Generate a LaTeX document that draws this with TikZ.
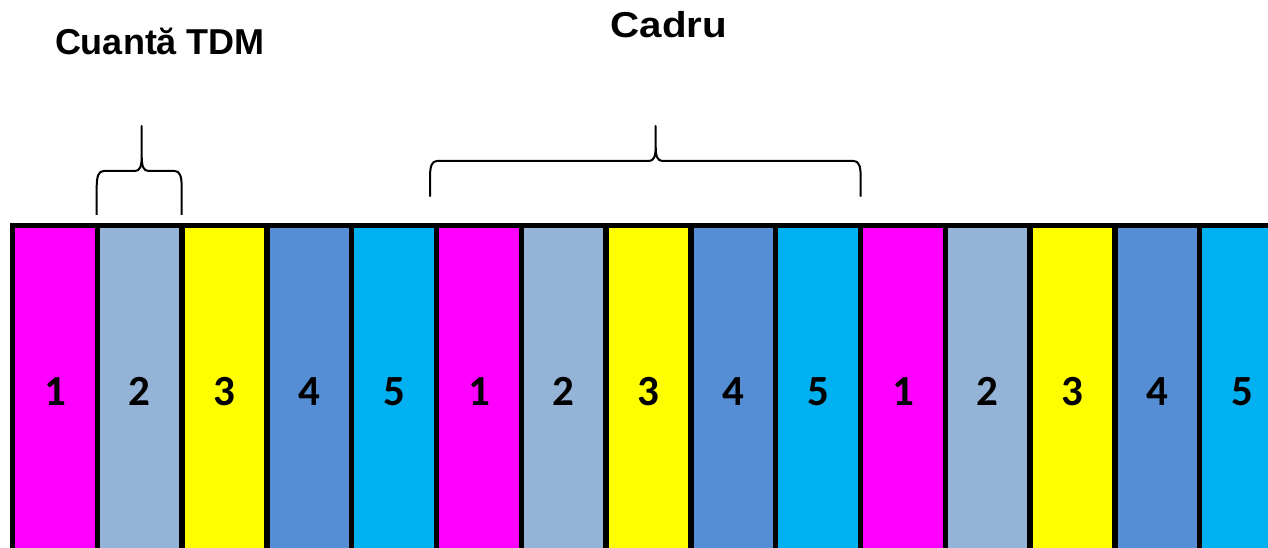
\documentclass[tikz,border=0pt]{standalone}
\usepackage{fontspec}
\setmainfont{Liberation Sans}
\newfontfamily\digitfont{Carlito}
\definecolor{cmag}{HTML}{FF00FF}
\definecolor{cgrey}{HTML}{95B3D7}
\definecolor{cyel}{HTML}{FFFF00}
\definecolor{cblue}{HTML}{558ED5}
\definecolor{ccyan}{HTML}{00B0F0}
\tikzset{
  slot/.style={draw=black, line width=5.5pt, minimum width=84.8pt, minimum height=331.5pt,
    inner sep=0pt, outer sep=0pt, anchor=south west, text=black,
    font=\digitfont\bfseries\fontsize{43}{45}\selectfont},
  bracepath/.style={draw=black, line width=2pt, line join=round},
  title/.style={inner sep=0pt, anchor=base, font=\bfseries\fontsize{36}{40}\selectfont}
}
\newcommand\mybrace[5]{%
  \draw[bracepath] (#1,#4) -- (#1,{#5-16}) .. controls (#1,{#5-5}) and ({#1+2},#5) .. ({#1+7},#5)
    -- ({#3-7},#5) .. controls ({#3-2},#5) and (#3,{#5+4}) .. (#3,{#5+15}) -- (#3,421)
    -- (#3,{#5+15}) .. controls (#3,{#5+4}) and ({#3+2},#5) .. ({#3+7},#5)
    -- ({#2-7},#5) .. controls ({#2-2},#5) and (#2,{#5-5}) .. (#2,{#5-16}) -- (#2,#4);}
\begin{document}
\begin{tikzpicture}[x=1pt,y=1pt]
\useasboundingbox (0,0) rectangle (1268,547);
\clip (0,0) rectangle (1268,547);
\fill[white] (0,0) rectangle (1268,547);
\foreach \k/\c/\n in {0/cmag/1,1/cgrey/2,2/cyel/3,3/cblue/4,4/ccyan/5,
                      5/cmag/1,6/cgrey/2,7/cyel/3,8/cblue/4,9/ccyan/5,
                      10/cmag/1,11/cgrey/2,12/cyel/3,13/cblue/4,14/ccyan/5}{
  \node[slot, fill=\c] (s\k) at ({12.5+84.8*\k},-10) {\n};
}
\mybrace{96.7}{181.7}{141.7}{332}{376}
\mybrace{430}{860.7}{655.7}{350.3}{386}
\node[title] (cuanta) at (160,492.7) {Cuantă TDM};
\node[title, xscale=1.12, transform shape] (cadru) at (669,509.3) {Cadru};
\end{tikzpicture}
\end{document}
